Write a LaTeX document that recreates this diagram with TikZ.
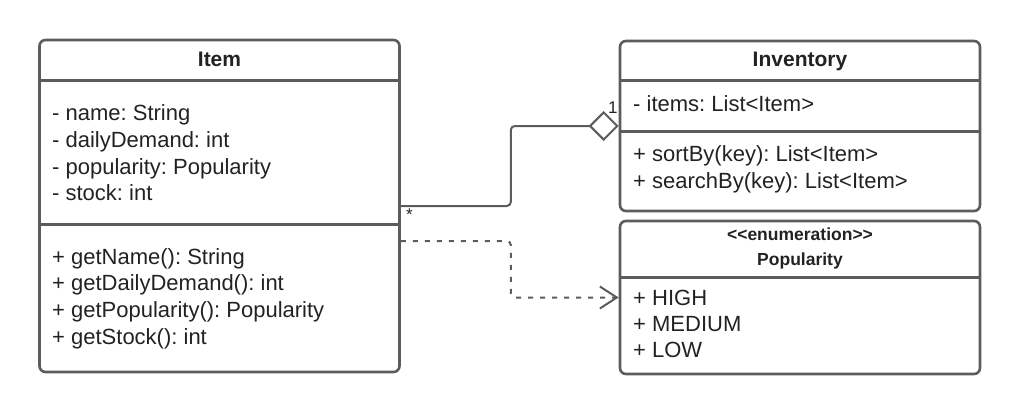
\documentclass[tikz,border=0pt]{standalone}
\usepackage{fontspec}
\setmainfont{Liberation Sans}
\usetikzlibrary{arrows.meta,calc}
\definecolor{umlline}{RGB}{92,92,92}
\definecolor{umltext}{RGB}{34,34,34}
\frenchspacing

\begin{document}
\begin{tikzpicture}[x=1pt, y=-1pt,
    cls/.style={draw=umlline, line width=2.6pt, rounded corners=6pt, minimum width=360pt},
    sep/.style={draw=umlline, line width=2.6pt},
    ttl/.style={font=\bfseries\fontsize{21}{26}\selectfont, text=umltext, anchor=base, inner sep=0pt},
    mem/.style={font=\fontsize{22}{26.7}\selectfont, text=umltext, anchor=base west, inner sep=0pt},
    mult/.style={font=\fontsize{17}{20}\selectfont, text=umltext, inner sep=0pt},
    agg/.style={draw=umlline, line width=2pt, rounded corners=4pt,
      -{Diamond[open, fill=white, length=30pt, width=30pt]}},
    dep/.style={draw=umlline, line width=2pt, rounded corners=4pt, dash pattern=on 5pt off 7pt,
      -{Straight Barb[length=17pt, width=22pt]}}]
  \useasboundingbox (0,0) rectangle (1020,415);
  % class boxes
  \node[cls, minimum height=332pt] (item) at (219.5,206) {};
  \node[cls, minimum height=170pt] (inv) at (800,126) {};
  \node[cls, minimum height=153pt] (pop) at (800,297.5) {};
  \draw[sep] ($(item.north west)+(0,42)$) -- ($(item.north east)+(0,42)$);
  \draw[sep] ($(item.north west)+(0,186)$) -- ($(item.north east)+(0,186)$);
  \draw[sep] ($(inv.north west)+(0,41)$) -- ($(inv.north east)+(0,41)$);
  \draw[sep] ($(inv.north west)+(0,92)$) -- ($(inv.north east)+(0,92)$);
  \draw[sep] ($(pop.north west)+(0,58)$) -- ($(pop.north east)+(0,58)$);

  % Item
  \node[ttl] (itemTitle) at (219.5,66) {Item};
  \foreach \t [count=\i] in {- name: String, - dailyDemand: int, - popularity: Popularity, - stock: int}
    \node[mem] (itemAttr\i) at (52,{120.7+26.7*(\i-1)}) {\t};
  \foreach \t [count=\i] in {+ getName(): String, + getDailyDemand(): int, + getPopularity(): Popularity, + getStock(): int}
    \node[mem] (itemOp\i) at (52,{264+26.7*(\i-1)}) {\t};

  % Inventory
  \node[ttl] (invTitle) at (800,66) {Inventory};
  \node[mem] (invAttr) at (633,111.7) {- items: List<Item>};
  \foreach \t [count=\i] in {+ sortBy(key): List<Item>, + searchBy(key): List<Item>}
    \node[mem] (invOp\i) at (633,{161.5+26.7*(\i-1)}) {\t};

  % Popularity
  \node[ttl, font=\bfseries\fontsize{17.5}{24}\selectfont] (popStereo) at (800,240.7) {<{}<enumeration>{}>};
  \node[ttl, font=\bfseries\fontsize{17.5}{24}\selectfont] (popTitle) at (800,265) {Popularity};
  \foreach \t [count=\i] in {+ HIGH, + MEDIUM, + LOW}
    \node[mem] (popVal\i) at (633,{305+26.4*(\i-1)}) {\t};

  % relations
  \coordinate (itemDep) at ($(item.east)+(0,35)$);
  \draw[agg] (item.east) -- ++(110,0) |- (inv.west);
  \draw[dep] (itemDep) -- ++(110,0) |- (pop.west);
  \node[mult, anchor=south east] (multOne) at ($(inv.west)+(-1,-12)$) {1};
  \node[mult, anchor=north west] (multMany) at ($(item.east)+(5,3)$) {*};
\end{tikzpicture}
\end{document}
